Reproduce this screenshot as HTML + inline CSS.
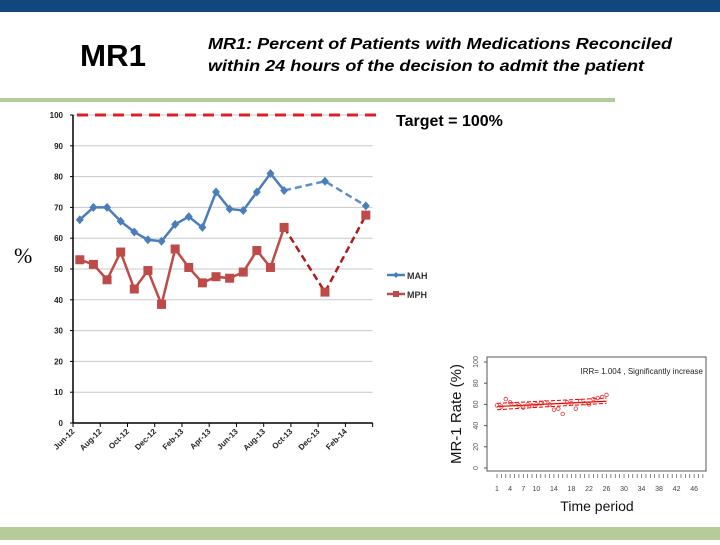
<!DOCTYPE html>
<html><head><meta charset="utf-8"><style>
body{margin:0;width:720px;height:540px;overflow:hidden;background:#fff;font-family:"Liberation Sans",sans-serif;}
</style></head><body>
<svg width="720" height="540" xmlns="http://www.w3.org/2000/svg">
<rect x="0" y="0" width="720" height="12" fill="#14467e"/>
<text x="80" y="66" font-size="31" font-weight="bold" fill="#000" textLength="66" lengthAdjust="spacingAndGlyphs">MR1</text>
<text x="208" y="49" font-size="16" font-weight="bold" font-style="italic" fill="#000" textLength="464" lengthAdjust="spacingAndGlyphs">MR1: Percent of Patients with Medications Reconciled</text>
<text x="208" y="71" font-size="16" font-weight="bold" font-style="italic" fill="#000" textLength="436" lengthAdjust="spacingAndGlyphs">within 24 hours of the decision to admit the patient</text>
<rect x="0" y="98" width="615" height="4" fill="#b5cc9a"/>
<rect x="0" y="527" width="720" height="13" fill="#b5cc9a"/>
<g id="main"></g>
<text x="14" y="263" font-family="Liberation Serif,serif" font-size="22">%</text>
<text x="396" y="126" font-size="16" font-weight="bold">Target = 100%</text>
<g><line x1="387" y1="275" x2="405" y2="275" stroke="#4a7ebb" stroke-width="2.5"/><path d="M396 272 l3 3 -3 3 -3 -3z" fill="#4a7ebb"/><text x="407" y="279" font-size="9" font-weight="bold" fill="#333">MAH</text></g>
<g><line x1="387" y1="294" x2="405" y2="294" stroke="#be4b48" stroke-width="2.5"/><rect x="393" y="291" width="6" height="6" fill="#be4b48"/><text x="407" y="298" font-size="9" font-weight="bold" fill="#333">MPH</text></g>
<g id="inset"></g>
</svg>
<script>
const months=["Jun-12","Jul-12","Aug-12","Sep-12","Oct-12","Nov-12","Dec-12","Jan-13","Feb-13","Mar-13","Apr-13","May-13","Jun-13","Jul-13","Aug-13","Sep-13","Oct-13","Nov-13","Dec-13","Jan-14","Feb-14","Mar-14"];
const tickLabels=["Jun-12","Aug-12","Oct-12","Dec-12","Feb-13","Apr-13","Jun-13","Aug-13","Oct-13","Dec-13","Feb-14"];
const yTicks=[0,10,20,30,40,50,60,70,80,90,100];
const mahMonths=["Jun-12","Jul-12","Aug-12","Sep-12","Oct-12","Nov-12","Dec-12","Jan-13","Feb-13","Mar-13","Apr-13","May-13","Jun-13","Jul-13","Aug-13","Sep-13","Dec-13","Mar-14"];
const mahValues=[66,70,70,65.5,62,59.5,59,64.5,67,63.5,75,69.5,69,75,81,75.5,78.5,70.5];
const mphValues=[53,51.5,46.5,55.5,43.5,49.5,38.5,56.5,50.5,45.5,47.5,47,49,56,50.5,63.5,42.5,67.5];
const targetValue=100;
const insetTimes=[1,2,3,4,5,6,7,8,9,10,11,12,13,14,15,16,17,18,19,20,21,22,23,24,25,26];
const insetValues=[59,58,65,62,60,59,57,60,59,60,61,62,60,55,56,51,62,61,56,63,61,60,65,66,67,69];
const insetYTicks=[0,20,40,60,80,100];
const insetXTicks=[1,4,7,10,14,18,22,26,30,34,38,42,46];
const NS="http://www.w3.org/2000/svg";
function mk(p,t,a){const e=document.createElementNS(NS,t);for(const k in a)e.setAttribute(k,a[k]);p.appendChild(e);return e;}
const X0=73,MW=13.62,Y0=423,YS=3.08;
const xM=m=>X0+(months.indexOf(m)+0.5)*MW;
const xT=m=>X0+months.indexOf(m)*MW;
const yV=v=>Y0-v*YS;
const g=document.getElementById('main');
yTicks.forEach(v=>{
 if(v>0){const l=mk(g,'line',{x1:X0,x2:X0+22*MW,y1:yV(v),y2:yV(v),stroke:'#c8c8c8','stroke-width':1});
 
 }
 const t=mk(g,'text',{x:X0-10,y:yV(v)+3,'font-size':8,'font-weight':'bold','text-anchor':'end',fill:'#222'});t.textContent=v;
 
 
 mk(g,'line',{x1:X0-3,x2:X0,y1:yV(v),y2:yV(v),stroke:'#000'});
});
mk(g,'line',{x1:X0,x2:X0,y1:yV(100),y2:Y0,stroke:'#000','stroke-width':1.5});
mk(g,'line',{x1:X0,x2:X0+22*MW,y1:Y0,y2:Y0,stroke:'#000','stroke-width':1.5});
for(let i=0;i<=22;i+=2){const x=X0+i*MW;mk(g,'line',{x1:x,x2:x,y1:Y0,y2:Y0+4,stroke:'#000'});}
tickLabels.forEach(m=>{const x=xT(m);const t=mk(g,'text',{x:x+2,y:Y0+9,'font-size':8,'font-weight':'bold','text-anchor':'end',fill:'#222',transform:`rotate(-45 ${x+2} ${Y0+9})`});t.textContent=m;
 
 });
const tl=mk(g,'line',{x1:X0+4,x2:378,y1:yV(targetValue),y2:yV(targetValue),stroke:'#e02020','stroke-width':3,'stroke-dasharray':'11 7'});


function series(vals,col,name,marker){
 const pts=vals.map((v,i)=>[xM(mahMonths[i]),yV(v)]);
 const solid=pts.slice(0,16),dash=pts.slice(15);
 const p1=mk(g,'polyline',{points:solid.map(p=>p.join(',')).join(' '),fill:'none',stroke:col,'stroke-width':2.5});
 
 
 const p2=mk(g,'polyline',{points:dash.map(p=>p.join(',')).join(' '),fill:'none',stroke:marker=='sq'?'#b01c1c':'#5b8fcc','stroke-width':2.5,'stroke-dasharray':'7 4'});
 
 
 pts.forEach(p=>{let e;
  if(marker=='sq')e=mk(g,'rect',{x:p[0]-4.5,y:p[1]-4.5,width:9,height:9,fill:col});
  else e=mk(g,'path',{d:`M${p[0]} ${p[1]-4.5} l4 4.5 -4 4.5 -4 -4.5z`,fill:col});
  
  });
}
series(mahValues,'#4a7ebb','mah','dia');
series(mphValues,'#be4b48','mph','sq');
// inset
const h=document.getElementById('inset');
const IX=t=>497+(t-1)*4.38,IY=v=>468-v*1.06;
mk(h,'rect',{x:430,y:350,width:290,height:177,fill:'#fff'});
mk(h,'rect',{x:487,y:357,width:219,height:114,fill:'none',stroke:'#555','stroke-width':1});
insetYTicks.forEach(v=>{mk(h,'line',{x1:484,x2:487,y1:IY(v),y2:IY(v),stroke:'#555'});
 const t=mk(h,'text',{x:478,y:IY(v),'font-size':7,fill:'#555','text-anchor':'middle',transform:`rotate(-90 478 ${IY(v)})`});t.textContent=v;
 
 });
for(let t=1;t<=48;t++)mk(h,'line',{x1:IX(t),x2:IX(t),y1:474,y2:478,stroke:'#555','stroke-width':0.7});
insetXTicks.forEach(v=>{const t=mk(h,'text',{x:IX(v),y:491,'font-size':7,fill:'#444','text-anchor':'middle'});t.textContent=v;
 
 });
const yl=mk(h,'text',{x:461,y:414,'font-size':15,fill:'#111','text-anchor':'middle',transform:'rotate(-90 461 414)'});yl.textContent='MR-1 Rate (%)';


const xl=mk(h,'text',{x:597,y:511,'font-size':14,fill:'#111','text-anchor':'middle'});xl.textContent='Time period';


const an=mk(h,'text',{x:703,y:374,'font-size':8,fill:'#222','text-anchor':'end'});an.textContent='IRR= 1.004 , Significantly increase';


const f1=insetTimes[0],fn=insetTimes[insetTimes.length-1];
mk(h,'line',{x1:IX(f1),x2:IX(fn),y1:IY(58),y2:IY(63),stroke:'#e00','stroke-width':1.2});
mk(h,'line',{x1:IX(f1),x2:IX(fn),y1:IY(55),y2:IY(61),stroke:'#e00','stroke-width':1,'stroke-dasharray':'4 2'});
mk(h,'line',{x1:IX(f1),x2:IX(fn),y1:IY(61),y2:IY(66),stroke:'#e00','stroke-width':1,'stroke-dasharray':'4 2'});
insetTimes.forEach((t,i)=>{const c=mk(h,'circle',{cx:IX(t),cy:IY(insetValues[i]),r:1.8,fill:'none',stroke:'#e33','stroke-width':0.8});
 
 });
</script>
</body></html>
